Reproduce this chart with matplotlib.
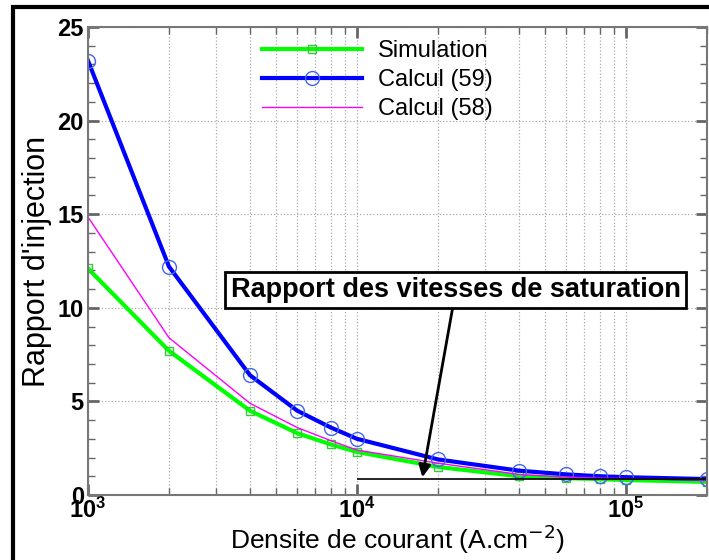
import matplotlib

matplotlib.use("Agg")
import matplotlib.pyplot as plt
from matplotlib.patches import Rectangle
from matplotlib.ticker import LogLocator, MultipleLocator, NullFormatter

# current density (A.cm-2)
densite = [1e3, 2e3, 4e3, 6e3, 8e3, 1e4, 2e4, 4e4, 6e4, 8e4, 1e5, 2e5]
simulation = [12.1, 7.7, 4.5, 3.3, 2.7, 2.3, 1.5, 1.0, 0.9, 0.85, 0.8, 0.7]
calcul_59 = [23.2, 12.2, 6.4, 4.5, 3.6, 3.0, 1.9, 1.3, 1.1, 1.0, 0.95, 0.85]
calcul_58 = [14.85, 8.4, 4.9, 3.6, 2.9, 2.4, 1.7, 1.1, 0.95, 0.9, 0.88, 0.8]
saturation = 0.85

plt.rcParams["font.family"] = ["Liberation Sans", "DejaVu Sans"]

fig = plt.figure(figsize=(7.09, 5.6), dpi=100)
ax = fig.add_axes([88 / 709, 1 - 495 / 560, (707 - 88) / 709, (495 - 27) / 560])

ax.plot(densite, simulation, color="#00ff00", lw=3, marker="s", ms=6,
        mfc="none", mec="#33cc33", label="Simulation")
ax.plot(densite, calcul_59, color="#0000ff", lw=3, marker="o", ms=10,
        mfc="none", mec="#4466ee", label="Calcul (59)")
ax.plot(densite, calcul_58, color="#ff00ff", lw=1, label="Calcul (58)")

ax.hlines(saturation, 1e4, 2e5, color="black", lw=1.2)

ax.set_xscale("log")
ax.set_xlim(1e3, 2e5)
ax.set_ylim(0, 25)
ax.yaxis.set_major_locator(MultipleLocator(5))
ax.yaxis.set_minor_locator(MultipleLocator(1))
ax.xaxis.set_minor_locator(LogLocator(base=10, subs=range(2, 10)))
ax.xaxis.set_minor_formatter(NullFormatter())

ax.grid(True, which="major", ls=":", color="#aaaaaa", lw=0.9)
ax.grid(True, which="minor", axis="x", ls=":", color="#aaaaaa", lw=0.9)
ax.tick_params(which="both", direction="in", top=True, right=True,
               color="#666666", labelsize=17)
ax.tick_params(which="major", length=8, width=2)
ax.tick_params(which="minor", length=5, width=1)
ax.tick_params(axis="y", pad=3)
ax.tick_params(axis="x", pad=2)
for lab in ax.get_yticklabels() + ax.get_xticklabels():
    lab.set_fontweight("bold")
for s in ax.spines.values():
    s.set_color("#777777")
    s.set_linewidth(1.5)

ax.set_xlabel("Densite de courant (A.cm$^{-2}$)", fontsize=19, labelpad=0)
ax.set_ylabel("Rapport d'injection", fontsize=22, labelpad=4)

ax.legend(loc="upper left", bbox_to_anchor=(0.255, 1.008), frameon=False,
          fontsize=17, handlelength=4.2, handletextpad=0.7,
          borderaxespad=0.3, labelspacing=0.3)

ax.annotate("Rapport des vitesses de saturation", xy=(1.75e4, 0.95),
            xytext=(2.33e4, 10.95), ha="center", va="center",
            fontsize=19.5, fontweight="bold",
            bbox=dict(boxstyle="square,pad=0.2", fc="white", ec="black", lw=2),
            arrowprops=dict(arrowstyle="-|>", color="black", lw=2,
                            mutation_scale=18, shrinkA=0, shrinkB=0))

# outer frame of the figure
fig.patches.append(Rectangle((13 / 709, -0.1), 1.2, 1 - 7 / 560 + 0.1,
                             transform=fig.transFigure, fill=False,
                             ec="black", lw=3))

fig.savefig("out.png", dpi=100)
